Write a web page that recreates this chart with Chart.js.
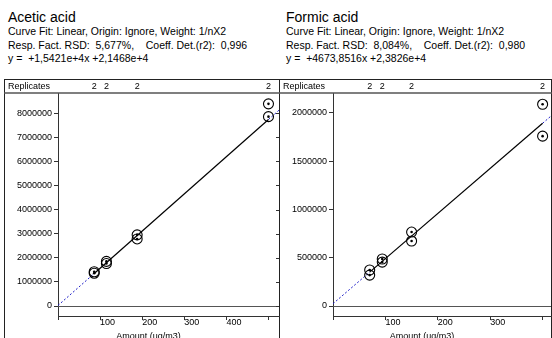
<!DOCTYPE html>
<html>
<head>
<meta charset="utf-8">
<script src="https://cdn.jsdelivr.net/npm/chart.js@4.4.1/dist/chart.umd.min.js"></script>
<style>
    body { margin: 0; width: 552px; height: 338px; overflow: hidden; background: #fff; position: relative;
        font-family: "Liberation Sans", Arial, sans-serif; color: #000; }
    .head { position: absolute; top: 9px; }
    .head .name { font-size: 14px; line-height: 16px; white-space: pre; }
    .head .info { font-size: 10.5px; line-height: 13.7px; white-space: pre; }
    .box { position: absolute; top: 79px; height: 270px; border: 1px solid #222; box-sizing: border-box; }
    canvas { position: absolute; top: 79px; }
</style>
</head>
<body>
<div class="head" style="left:8px">
    <div class="name">Acetic acid</div>
    <div class="info">Curve Fit: Linear, Origin: Ignore, Weight: 1/nX2</div>
    <div class="info">Resp. Fact. RSD:  5,677%,    Coeff. Det.(r2):  0,996</div>
    <div class="info">y =  +1,5421e+4x +2,1468e+4</div>
</div>
<div class="head" style="left:286px">
    <div class="name">Formic acid</div>
    <div class="info">Curve Fit: Linear, Origin: Ignore, Weight: 1/nX2</div>
    <div class="info">Resp. Fact. RSD:  8,084%,    Coeff. Det.(r2):  0,980</div>
    <div class="info">y =  +4673,8516x +2,3826e+4</div>
</div>
<div class="box" style="left:4px;width:276px"></div>
<div class="box" style="left:279px;width:273px"></div>
<canvas id="chart-acetic" width="276" height="266" style="left:4px;width:276px;height:266px"></canvas>
<canvas id="chart-formic" width="273" height="266" style="left:279px;width:273px;height:266px"></canvas>

<script>
// calibration points (amount ug/m3, response)
const aceticX = [86, 86, 115, 115, 188, 188, 500, 500];
const aceticY = [1420000, 1360000, 1760000, 1850000, 2780000, 2950000, 7850000, 8380000];
const formicX = [70, 70, 94, 94, 150, 150, 400, 400];
const formicY = [373000, 320000, 487000, 455000, 766000, 673000, 2090000, 1760000];

// fitted line: origin, first level, last level, plot edge
const aceticFitX = [0, 86, 500, 525];
const aceticFitY = [21468, 1347674, 7731968, 8117493];
const formicFitX = [0, 70, 400, 416];
const formicFitY = [23826, 350996, 1893366, 1968147];

// replicate counts row
const aceticRepX = [86, 115, 188, 500];
const aceticReps = ["2", "2", "2", "2"];
const formicRepX = [70, 94, 150, 400];
const formicReps = ["2", "2", "2", "2"];

// axes
const aceticXTicks = [0, 100, 200, 300, 400, 500];
const aceticXLabels = ["", "100", "200", "300", "400", ""];
const aceticYTicks = [0, 1000000, 2000000, 3000000, 4000000, 5000000, 6000000, 7000000, 8000000];
const formicXTicks = [0, 100, 200, 300, 400];
const formicXLabels = ["", "100", "200", "300", ""];
const formicYTicks = [0, 500000, 1000000, 1500000, 2000000];

const xTitle = "Amount (ug/m3)";
const FONT = "'Liberation Sans', Arial, sans-serif";
const BLUE = "#1f1fc8";
const AXIS = "#333";

Chart.defaults.font.family = FONT;
Chart.defaults.font.size = 9;
Chart.defaults.color = "#000";

function pts(xs, ys) {
    return xs.map((x, i) => ({ x, y: ys[i] }));
}

// header row, zero line, mirrored ticks, axis title
const decor = {
    id: "decor",
    beforeDatasetsDraw(chart, args, opts) {
        const { ctx, chartArea, scales } = chart;
        const y0 = scales.y.getPixelForValue(0);
        ctx.save();
        ctx.strokeStyle = "#555";
        ctx.lineWidth = 1;
        ctx.beginPath();
        ctx.moveTo(chartArea.left, Math.round(y0) + 0.5);
        ctx.lineTo(chartArea.right, Math.round(y0) + 0.5);
        ctx.stroke();
        ctx.restore();
    },
    afterDraw(chart, args, opts) {
        const { ctx, chartArea, scales } = chart;
        ctx.save();
        // separator under replicates row
        ctx.strokeStyle = "#555";
        ctx.lineWidth = 1.5;
        ctx.beginPath();
        ctx.moveTo(0, chartArea.top);
        ctx.lineTo(chart.width, chartArea.top);
        ctx.stroke();

        ctx.fillStyle = "#000";
        ctx.font = "9px " + FONT;
        ctx.textBaseline = "middle";
        ctx.textAlign = "left";
        ctx.fillText("Replicates", 4, 8);
        ctx.textAlign = "center";
        opts.repX.forEach((v, i) => {
            ctx.fillText(opts.reps[i], scales.x.getPixelForValue(v), 8);
        });

        if (opts.mirror) {
            ctx.strokeStyle = AXIS;
            ctx.lineWidth = 1;
            ctx.beginPath();
            scales.y.ticks.forEach((t) => {
                const y = Math.round(scales.y.getPixelForValue(t.value)) + 0.5;
                ctx.moveTo(chartArea.right - 3, y);
                ctx.lineTo(chartArea.right, y);
            });
            ctx.stroke();
        }

        ctx.textAlign = "center";
        ctx.textBaseline = "alphabetic";
        ctx.fillText(xTitle, (chartArea.left + chartArea.right) / 2 - 20, chartArea.bottom + 23);
        ctx.restore();
    },
};

function makeChart(id, cfg) {
    const canvas = document.getElementById(id);
    return new Chart(canvas, {
        type: "scatter",
        data: {
            datasets: [
                {
                    data: pts(cfg.px, cfg.py),
                    pointRadius: 5,
                    pointHoverRadius: 5,
                    borderColor: "#000",
                    borderWidth: 1.1,
                    backgroundColor: "rgba(0,0,0,0)",
                },
                {
                    data: pts(cfg.px, cfg.py),
                    pointRadius: 1.3,
                    borderWidth: 0,
                    backgroundColor: "#000",
                },
                {
                    data: pts(cfg.fitX.slice(1, 3), cfg.fitY.slice(1, 3)),
                    showLine: true,
                    borderColor: "#000",
                    borderWidth: 1.2,
                    pointRadius: 0,
                },
                {
                    data: pts(cfg.fitX.slice(0, 2), cfg.fitY.slice(0, 2)),
                    showLine: true,
                    borderColor: BLUE,
                    borderWidth: 1,
                    borderDash: [2, 2],
                    pointRadius: 0,
                },
                {
                    data: pts(cfg.fitX.slice(2, 4), cfg.fitY.slice(2, 4)),
                    showLine: true,
                    borderColor: BLUE,
                    borderWidth: 1,
                    borderDash: [2, 2],
                    pointRadius: 0,
                },
            ],
        },
        options: {
            responsive: false,
            animation: false,
            events: [],
            layout: { autoPadding: false, padding: { top: 14, right: 1, left: 0, bottom: 0 } },
            plugins: {
                legend: { display: false },
                tooltip: { enabled: false },
                decor: { repX: cfg.repX, reps: cfg.reps, mirror: cfg.mirror },
            },
            scales: {
                x: {
                    type: "linear",
                    min: cfg.xMin,
                    max: cfg.xMax,
                    afterFit: (s) => { s.height = 29; },
                    afterBuildTicks: (s) => { s.ticks = cfg.xTicks.map((v) => ({ value: v })); },
                    grid: { drawOnChartArea: false, drawTicks: true, tickLength: 4, color: AXIS },
                    border: { color: AXIS, width: 1 },
                    ticks: {
                        align: "start",
                        padding: -3,
                        maxRotation: 0,
                        autoSkip: false,
                        callback: (v, i) => cfg.xLabels[i],
                    },
                },
                y: {
                    type: "linear",
                    min: cfg.yMin,
                    max: cfg.yMax,
                    afterFit: (s) => { s.width = 54; },
                    afterBuildTicks: (s) => { s.ticks = cfg.yTicks.map((v) => ({ value: v })); },
                    grid: { drawOnChartArea: false, drawTicks: true, tickLength: 4, color: AXIS },
                    border: { color: AXIS, width: 1 },
                    ticks: { padding: 2, callback: (v) => String(v) },
                },
            },
        },
        plugins: [decor],
    });
}

makeChart("chart-acetic", {
    px: aceticX, py: aceticY,
    fitX: aceticFitX, fitY: aceticFitY,
    repX: aceticRepX, reps: aceticReps,
    xTicks: aceticXTicks, xLabels: aceticXLabels, yTicks: aceticYTicks,
    xMin: 0, xMax: 525, yMin: -414000, yMax: 8830000,
    mirror: true,
});

makeChart("chart-formic", {
    px: formicX, py: formicY,
    fitX: formicFitX, fitY: formicFitY,
    repX: formicRepX, reps: formicReps,
    xTicks: formicXTicks, xLabels: formicXLabels, yTicks: formicYTicks,
    xMin: 0, xMax: 416, yMin: -103600, yMax: 2207000,
    mirror: false,
});
</script>
</body>
</html>
